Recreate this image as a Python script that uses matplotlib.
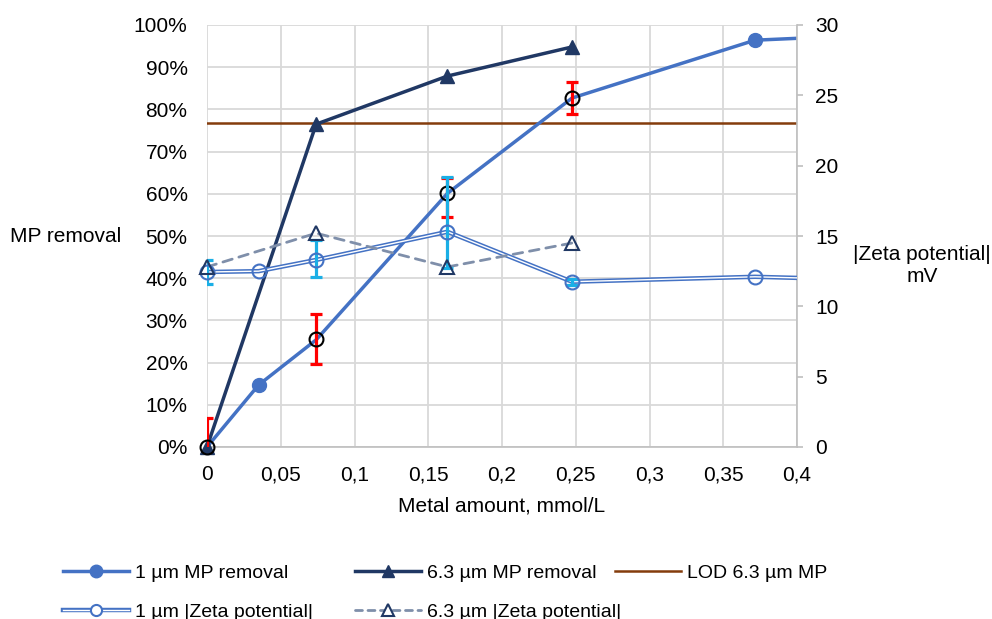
import matplotlib
matplotlib.use("Agg")
import matplotlib.pyplot as plt
from matplotlib.lines import Line2D
from matplotlib.legend_handler import HandlerTuple
from matplotlib.ticker import FuncFormatter, MultipleLocator

plt.rcParams['font.family'] = ['Liberation Sans', 'DejaVu Sans']

# datos
metal_1um = [0, 0.035, 0.074, 0.163, 0.2475, 0.3715, 0.5]
removal_1um = [0, 14.7, 25.4, 60.1, 82.7, 96.4, 98.4]
zeta_1um = [12.44, 12.5, 13.3, 15.3, 11.75, 12.1, 11.75]
marker_idx_1um = [1, 5]  # puntos sin barra de error

metal_63 = [0, 0.074, 0.163, 0.2475]
removal_63 = [0, 76.5, 87.9, 94.8]
zeta_63 = [12.8, 15.2, 12.8, 14.5]

lod_63 = 76.8

# barras de error (remocion 1 um)
err_x = [0, 0.074, 0.163, 0.2475]
err_y = [0, 25.5, 60.1, 82.7]
err_lo = [6.9, 5.9, 5.5, 3.7]
err_hi = [6.9, 5.9, 3.6, 3.7]

# barras de error (zeta 1 um)
zerr_y = [12.44, 13.3, 15.3, 11.75]
zerr_lo = [0.85, 1.2, 2.6, 0.2]
zerr_hi = [0.85, 1.4, 3.9, 0.2]

c_1um = '#4472C4'
c_63 = '#203864'
c_lod = '#843C0C'
c_dash = '#7F8FAA'
c_grid = '#D9D9D9'
fs = 15
fs_leg = 14

fig = plt.figure(figsize=(9.92, 6.19), dpi=100)
ax = fig.add_axes([207/992, 1-447/619, 590/992, 422/619])
ax2 = ax.twinx()

ax.set_xlim(0, 0.4)
ax.set_ylim(0, 100)
ax2.set_ylim(0, 30)

ax.xaxis.set_major_locator(MultipleLocator(0.05))
ax.yaxis.set_major_locator(MultipleLocator(10))
ax2.yaxis.set_major_locator(MultipleLocator(5))
ax.xaxis.set_major_formatter(FuncFormatter(lambda v, p: '{:g}'.format(round(v, 3)).replace('.', ',')))
ax.yaxis.set_major_formatter(FuncFormatter(lambda v, p: '{:g}%'.format(v)))

ax.grid(True, color=c_grid, lw=1.3)
ax.set_axisbelow(True)
for s in ['top', 'left', 'right']:
    ax.spines[s].set_visible(False)
ax.spines['bottom'].set_color('#BFBFBF')
ax.spines['bottom'].set_linewidth(1.2)
for s in ['top', 'left', 'bottom']:
    ax2.spines[s].set_visible(False)
ax2.spines['right'].set_color('#BFBFBF')
ax2.spines['right'].set_linewidth(1.2)

ax.tick_params(axis='both', length=0, labelsize=fs, colors='black')
ax.tick_params(axis='y', pad=14)
ax.tick_params(axis='x', pad=13)
ax2.tick_params(axis='y', length=4, width=1.2, color='#BFBFBF', labelsize=fs, pad=9)

# remocion
ax.plot(metal_1um, removal_1um, color=c_1um, lw=2.5, zorder=3)
ax.plot([metal_1um[i] for i in marker_idx_1um], [removal_1um[i] for i in marker_idx_1um],
        ls='none', marker='o', ms=10, color=c_1um, clip_on=False, zorder=4)
ax.plot(metal_63, removal_63, color=c_63, lw=2.5, zorder=3)
ax.plot(metal_63, removal_63, ls='none', marker='^', ms=10,
        color=c_63, clip_on=False, zorder=4)
ax.plot([0, 0.4], [lod_63, lod_63], color=c_lod, lw=1.8, zorder=2)

ax.errorbar(err_x, err_y, yerr=[err_lo, err_hi], fmt='none', ecolor='#FF0000',
            elinewidth=2.3, capsize=4, capthick=2.3, zorder=5)
ax.plot(err_x, err_y, ls='none', marker='o', ms=10, mfc='none', mec='black',
        mew=1.5, clip_on=False, zorder=6)

# potencial zeta
ax2.plot(metal_1um, zeta_1um, color=c_1um, lw=3.2, zorder=3)
ax2.plot(metal_1um, zeta_1um, color='white', lw=1.0, zorder=3)
ax2.errorbar(err_x, zerr_y, yerr=[zerr_lo, zerr_hi], fmt='none', ecolor='#1AAFE6',
             elinewidth=2.3, capsize=4, capthick=2.3, zorder=4)
ax2.plot(metal_1um[:-1], zeta_1um[:-1], ls='none', marker='o', ms=10, mfc='none',
         mec=c_1um, mew=1.5, clip_on=False, zorder=5)
ax2.plot(metal_63, zeta_63, color=c_dash, lw=2.0, ls=(0, (3.5, 2.5)),
         dash_capstyle='round', zorder=3)
ax2.plot(metal_63, zeta_63, ls='none', marker='^', ms=10, mfc='none', mec=c_63,
         mew=1.5, clip_on=False, zorder=5)

# etiquetas
fig.text(10/992, 1-237/619, 'MP removal', fontsize=fs, ha='left', va='center')
fig.text(922/992, 1-266/619, '|Zeta potential|\nmV', fontsize=fs, ha='center',
         va='center', linespacing=1.2)
fig.text(502/992, 1-506/619, 'Metal amount, mmol/L', fontsize=fs, ha='center',
         va='center')

# leyenda (una por columna, como en Excel)
h1 = Line2D([], [], color=c_1um, lw=2.5, marker='o', ms=9)
h2 = Line2D([], [], color=c_63, lw=2.5, marker='^', ms=9)
h3 = Line2D([], [], color=c_lod, lw=1.8)
h4 = (Line2D([], [], color=c_1um, lw=3.2), Line2D([], [], color='white', lw=1.0),
      Line2D([], [], ls='none', marker='o', ms=8, mfc='white', mec=c_1um, mew=1.5))
h5 = (Line2D([], [], color=c_dash, lw=2.0, ls=(0, (2.5, 2)), dash_capstyle='round'),
      Line2D([], [], ls='none', marker='^', ms=8, mfc='white', mec=c_63, mew=1.5))

columnas = [([h1, h4], ['1 µm MP removal', '1 µm |Zeta potential|'], 63),
            ([h2, h5], ['6.3 µm MP removal', '6.3 µm |Zeta potential|'], 355),
            ([h3], ['LOD 6.3 µm MP'], 615)]
for hs, labs, x0 in columnas:
    fig.legend(hs, labs, handler_map={tuple: HandlerTuple(ndivide=1)},
               loc='upper left', bbox_to_anchor=(x0/992, 1-564/619), ncol=1,
               frameon=False, fontsize=fs_leg, handlelength=3.4, handletextpad=0.3,
               labelspacing=1.1, borderpad=0, borderaxespad=0)

fig.savefig('out.png', dpi=100)
